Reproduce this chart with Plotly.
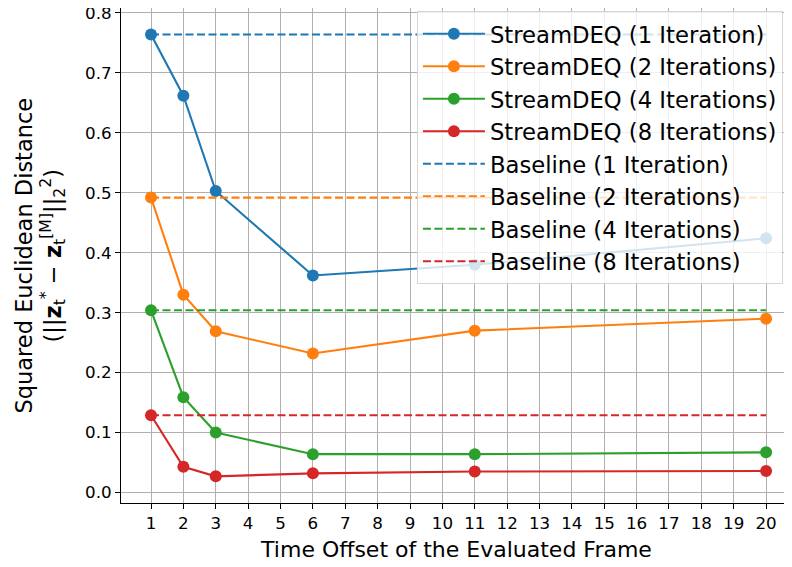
import plotly.graph_objects as go

offsets = [1, 2, 3, 6, 11, 20]
stream_1 = [0.764, 0.662, 0.503, 0.362, 0.380, 0.424]
stream_2 = [0.492, 0.330, 0.269, 0.232, 0.270, 0.290]
stream_4 = [0.304, 0.159, 0.100, 0.064, 0.064, 0.067]
stream_8 = [0.129, 0.043, 0.027, 0.032, 0.035, 0.036]
baseline_x = [1, 20]
baseline_1 = 0.764
baseline_2 = 0.492
baseline_4 = 0.304
baseline_8 = 0.129
x_ticks = list(range(1, 21))
y_ticks = [0.0, 0.1, 0.2, 0.3, 0.4, 0.5, 0.6, 0.7, 0.8]

colors = ["#1f77b4", "#ff7f0e", "#2ca02c", "#d62728"]
stream_names = ["StreamDEQ (1 Iteration)", "StreamDEQ (2 Iterations)",
                "StreamDEQ (4 Iterations)", "StreamDEQ (8 Iterations)"]
base_names = ["Baseline (1 Iteration)", "Baseline (2 Iterations)",
              "Baseline (4 Iterations)", "Baseline (8 Iterations)"]
streams = [stream_1, stream_2, stream_4, stream_8]
baselines = [baseline_1, baseline_2, baseline_4, baseline_8]

fig = go.Figure()
for name, ys, c in zip(stream_names, streams, colors):
    fig.add_trace(go.Scatter(x=offsets, y=ys, mode="lines+markers", name=name,
                             line=dict(color=c, width=2.1),
                             marker=dict(color=c, size=12)))
for name, b, c in zip(base_names, baselines, colors):
    fig.add_trace(go.Scatter(x=baseline_x, y=[b, b], mode="lines", name=name,
                             line=dict(color=c, width=2.1, dash="8px,3.5px")))

font = "DejaVu Sans"
fig.update_layout(
    width=784, height=559,
    margin=dict(l=113, r=0, t=0, b=64, autoexpand=False),
    paper_bgcolor="white", plot_bgcolor="white",
    font=dict(family=font, color="black"),
    showlegend=True,
    legend=dict(x=0.441, y=0.993, xanchor="left", yanchor="top",
                bgcolor="rgba(255,255,255,0.8)", bordercolor="rgba(204,204,204,0.8)",
                borderwidth=1, font=dict(size=22.7, family=font), itemwidth=62),
    xaxis=dict(range=[0.073, 20.80], tickmode="array", tickvals=x_ticks,
               ticktext=[str(v) for v in x_ticks], automargin=False,
               showgrid=True, gridcolor="#b0b0b0", gridwidth=1,
               showline=True, linecolor="black", linewidth=1.1,
               ticks="outside", ticklen=5, tickwidth=1.1, tickcolor="black",
               tickfont=dict(size=16.7, family=font), zeroline=False,
               ticklabeloverflow="allow",
               title=dict(text="Time Offset of the Evaluated Frame",
                          font=dict(size=22, family=font), standoff=9)),
    yaxis=dict(range=[-0.0175, 0.8083], tickmode="array", tickvals=y_ticks,
               ticktext=[f"{v:.1f}" for v in y_ticks], automargin=False,
               showgrid=True, gridcolor="#b0b0b0", gridwidth=1,
               showline=True, linecolor="black", linewidth=1.1,
               ticks="outside", ticklen=5, tickwidth=1.1, tickcolor="black",
               tickfont=dict(size=16.7, family=font), zeroline=False,
               ticklabeloverflow="allow"),
)
fig.add_annotation(
    xref="paper", yref="paper", x=-0.1207, y=0.5, xanchor="center", yanchor="middle",
    textangle=-90, showarrow=False,
    text="Squared Euclidean Distance<br>(||<b>z</b><sub>t</sub><sup>*</sup> − "
         "<b>z</b><sub>t</sub><sup>[M]</sup>||<sub>2</sub><sup>2</sup>)",
    font=dict(size=22.5, family=font),
)
fig.write_html("out.html")
